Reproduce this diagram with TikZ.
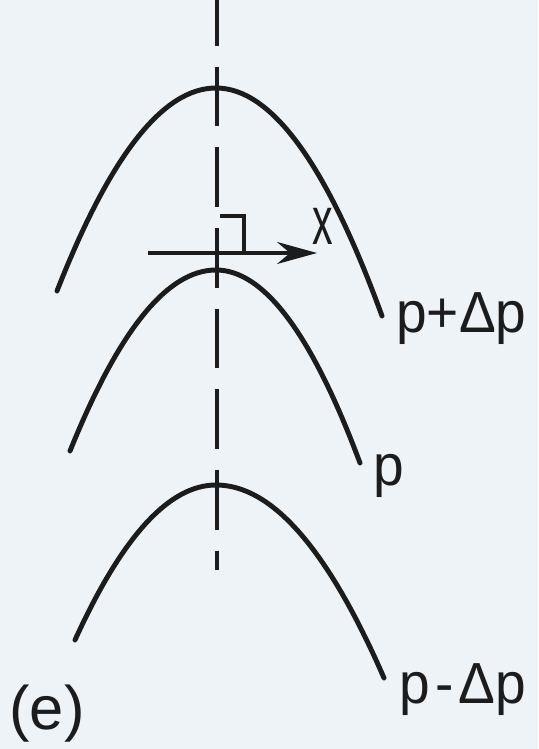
\documentclass[tikz,border=0pt]{standalone}
\usepackage{fontspec}
\setmainfont{Liberation Sans}
\newfontfamily\lblfont[FakeStretch=0.95]{Liberation Sans}
\newfontfamily\axfont[FakeStretch=0.6]{Liberation Sans}
\usepackage{tikz}
\usetikzlibrary{arrows.meta}
\definecolor{paper}{HTML}{EDF3F7}
\definecolor{ink}{HTML}{1C1C1C}

\begin{document}
\begin{tikzpicture}[x=0.02cm,y=-0.02cm,
  front/.style={ink,line width=2.8pt,line cap=round},
  thin/.style={ink,line width=1.8pt},
  lbl/.style={text=ink,inner sep=0pt,font=\lblfont\fontsize{33}{36}\selectfont}]
  \fill[paper] (0,0) rectangle (538,749);
  \useasboundingbox (0,0) rectangle (538,749);

  % symmetry axis
  \coordinate (axtop) at (217,0);
  \coordinate (axbot) at (217,570);
  \draw[thin,dash pattern=on 34pt off 11.9pt,dash phase=7.9pt] (axtop) -- (axbot);

  % the three curves
  \draw[front] (57,291) .. controls (110,155.7) and (163,88) .. (216,88)
    .. controls (271.3,88) and (326.7,164) .. (382,316);
  \draw[front] (70,451) .. controls (118.7,330.3) and (167.3,270) .. (216,270)
    .. controls (264,270) and (312,334.3) .. (360,463);
  \draw[front] (75,640) .. controls (122,536.7) and (169,485) .. (216,485)
    .. controls (272,485) and (328,549.3) .. (384,678);

  % x direction
  \coordinate (xstart) at (148,253);
  \coordinate (xend) at (317,253);
  \draw[thin,-{Stealth[length=0.8cm,width=0.44cm]}] (xstart) -- (xend);
  \draw[thin] (220,216) -- (244,216) -- (244,253);
  \node[text=ink,inner sep=0pt,font=\axfont\fontsize{39}{40}\selectfont]
    (lblx) at (323,226) {x};

  \node[lbl,anchor=base west] (lblplus) at (396,333) {p+Δp};
  \node[lbl,anchor=base west] (lblp) at (373,485) {p};
  \node[lbl,anchor=base west] (lblminus) at (399,703) {p\kern3pt-\kern3ptΔp};
  \node[text=ink,inner sep=0pt,anchor=base west,font=\fontsize{35}{38}\selectfont]
    (lble) at (9,729) {(e)};
\end{tikzpicture}
\end{document}
